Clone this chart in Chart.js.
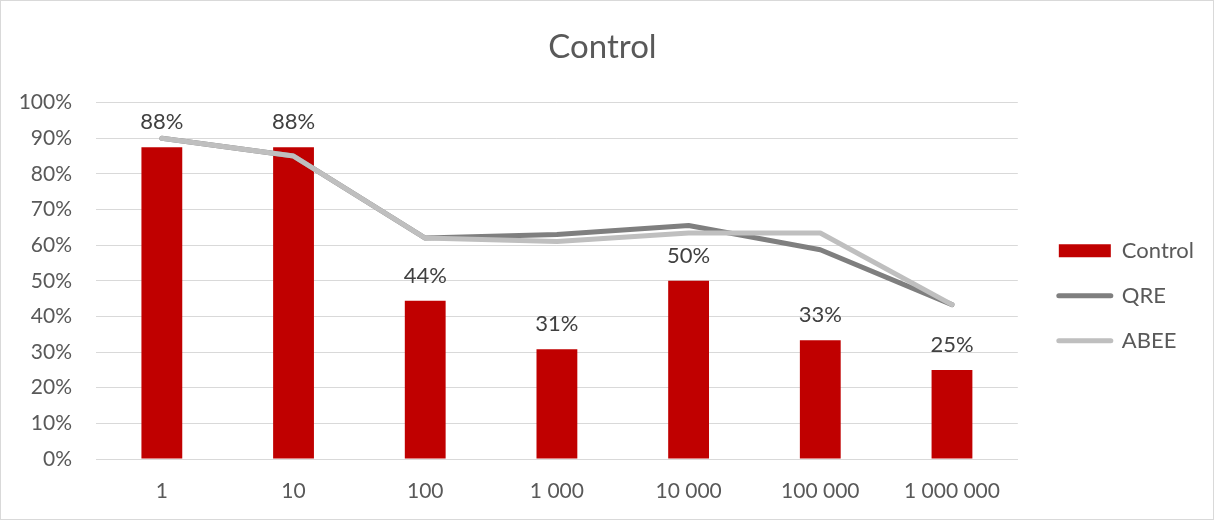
<!DOCTYPE html>
<html>
<head>
<meta charset="utf-8">
<script src="https://cdn.jsdelivr.net/npm/chart.js@4.4.1/dist/chart.umd.min.js"></script>
<style>
  html, body { margin: 0; padding: 0; background: #ffffff; }
  #frame { width: 1214px; height: 520px; box-sizing: border-box; border: 1px solid #d9d9d9; background: #ffffff; }
  #chart { display: block; }
</style>
</head>
<body>
<div id="frame"><canvas id="chart" width="1212" height="518"></canvas></div>
<script>
// Category labels (stake sizes)
const categories = ['1', '10', '100', '1 000', '10 000', '100 000', '1 000 000'];
// Observed share in the control treatment
const controlValues = [0.875, 0.875, 0.444, 0.308, 0.5, 0.333, 0.25];
// Model predictions
const qreValues  = [0.90, 0.85, 0.62, 0.63, 0.655, 0.587, 0.433];
const abeeValues = [0.90, 0.85, 0.62, 0.61, 0.634, 0.634, 0.433];
// Y axis ticks
const yTickValues = [0, 0.1, 0.2, 0.3, 0.4, 0.5, 0.6, 0.7, 0.8, 0.9, 1.0];

const FONT = 'Lato, "Open Sans", sans-serif';
const TEXT = '#595959';

// Percent labels above each bar
const barValueLabels = {
  id: 'barValueLabels',
  afterDatasetsDraw(chart) {
    const meta = chart.getDatasetMeta(0);
    const ctx = chart.ctx;
    ctx.save();
    ctx.font = '22px ' + FONT;
    ctx.fillStyle = '#404040';
    ctx.textAlign = 'center';
    ctx.textBaseline = 'alphabetic';
    meta.data.forEach((bar, i) => {
      const v = chart.data.datasets[0].data[i];
      ctx.fillText(Math.round(v * 100) + '%', bar.x, bar.y - 18);
    });
    ctx.restore();
  }
};

new Chart(document.getElementById('chart'), {
  data: {
    labels: categories,
    datasets: [
      {
        type: 'bar',
        label: 'Control',
        data: controlValues,
        backgroundColor: '#c00000',
        borderWidth: 0,
        categoryPercentage: 1,
        barPercentage: 0.31,
        order: 2
      },
      {
        type: 'line',
        label: 'QRE',
        data: qreValues,
        borderColor: '#7f7f7f',
        backgroundColor: '#7f7f7f',
        borderWidth: 5,
        borderCapStyle: 'round',
        borderJoinStyle: 'round',
        pointRadius: 0,
        tension: 0,
        order: 1
      },
      {
        type: 'line',
        label: 'ABEE',
        data: abeeValues,
        borderColor: '#bfbfbf',
        backgroundColor: '#bfbfbf',
        borderWidth: 5,
        borderCapStyle: 'round',
        borderJoinStyle: 'round',
        pointRadius: 0,
        tension: 0,
        order: 0
      }
    ]
  },
  options: {
    responsive: false,
    animation: false,
    layout: { padding: { left: 0, right: 9, top: 0, bottom: 0 } },
    plugins: {
      tooltip: { enabled: false },
      title: {
        display: true,
        text: 'Control',
        color: TEXT,
        font: { family: FONT, size: 33, weight: 'normal' },
        padding: { top: 27, bottom: 35 }
      },
      legend: {
        position: 'right',
        align: 'center',
        fullSize: false,
        // empty spacer title keeps the entries a little below the plot centre
        title: { display: true, text: ' ', font: { family: FONT, size: 10 }, padding: 9 },
        labels: {
          color: TEXT,
          font: { family: FONT, size: 22 },
          usePointStyle: true,
          pointStyleWidth: 52,
          boxWidth: 52,
          boxHeight: 13,
          padding: 23,
          sort: (a, b) => a.datasetIndex - b.datasetIndex,
          generateLabels(chart) {
            const items = Chart.defaults.plugins.legend.labels.generateLabels(chart);
            items.forEach(it => {
              const ds = chart.data.datasets[it.datasetIndex];
              if (ds.type === 'line') {
                it.pointStyle = 'line';
                it.lineWidth = 5;
                it.lineCap = 'round';
                it.lineJoin = 'round';
                it.strokeStyle = ds.borderColor;
                it.fillStyle = ds.borderColor;
              } else {
                it.pointStyle = 'rect';
                it.lineWidth = 0;
                it.fillStyle = ds.backgroundColor;
              }
              it.fontColor = TEXT;
            });
            return items;
          }
        }
      }
    },
    scales: {
      x: {
        type: 'category',
        grid: { display: false, drawTicks: false },
        border: { display: true, color: '#d9d9d9', width: 1 },
        ticks: { color: TEXT, font: { family: FONT, size: 21 }, padding: 20, maxRotation: 0 },
        afterFit(scale) { scale.height = 60; }
      },
      y: {
        min: 0,
        max: 1,
        afterBuildTicks(scale) { scale.ticks = yTickValues.map(v => ({ value: v })); },
        grid: { color: '#d9d9d9', lineWidth: 1, drawTicks: false },
        border: { display: false },
        ticks: {
          color: TEXT,
          font: { family: FONT, size: 21 },
          padding: 24,
          callback: v => Math.round(v * 100) + '%'
        },
        afterFit(scale) { scale.width = 95; }
      },
      gap: {
        position: 'right',
        display: true,
        grid: { display: false, drawTicks: false },
        border: { display: false },
        ticks: { display: false },
        afterFit(scale) { scale.width = 18; }
      }
    }
  },
  plugins: [barValueLabels]
});
</script>
</body>
</html>
